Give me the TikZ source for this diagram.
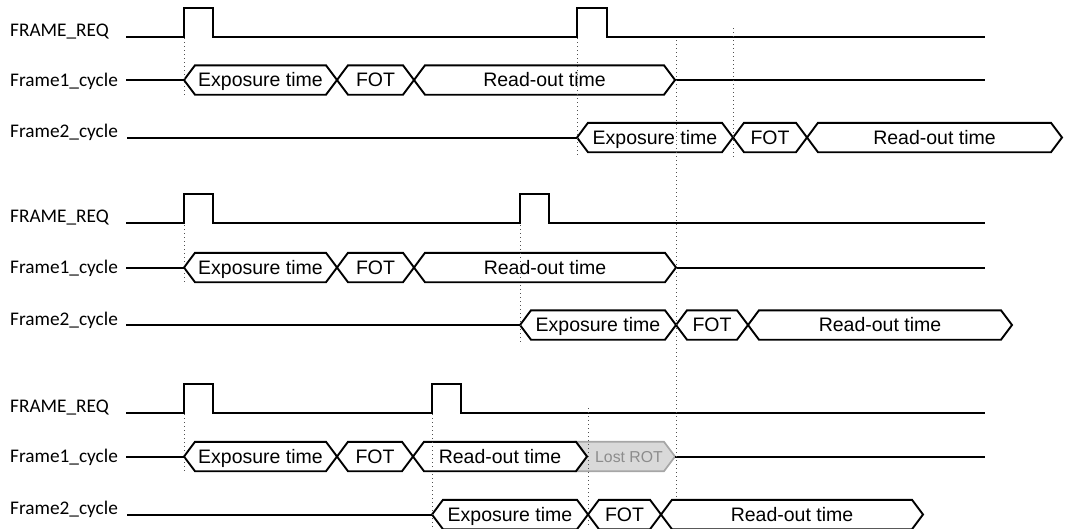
\documentclass[tikz,border=0pt]{standalone}
\usepackage{fontspec}
\setmainfont{Liberation Sans}
\newfontfamily\lblfont{Carlito}
\definecolor{lostfill}{HTML}{D9D9D9}
\definecolor{lostline}{HTML}{A6A6A6}
\definecolor{losttext}{HTML}{8C8C8C}
\definecolor{guidecol}{HTML}{505050}
\newcommand{\hexbox}[5]{%
  \draw[boxline] (#2,#4) -- ++(11,-14.7) -- (#3-11,#4-14.7) -- (#3,#4) -- (#3-11,#4+14.7) -- (#2+11,#4+14.7) -- cycle;
  \node[boxtxt] (#1) at ({(#2+#3)/2},#4+6.7) {#5};
}
\newcommand{\sectionlabels}[4]{% suffix, L, F1, F2
  \node[lbl] (req#1) at (10,#2-0.5) {FRAME\_REQ};
  \node[lbl] (fa#1) at (10,#3+6) {Frame1\_cycle};
  \node[lbl] (fb#1) at (10,#4) {Frame2\_cycle};
}
\begin{document}
\begin{tikzpicture}[x=1pt,y=-1pt,
  sig/.style={line width=2pt, line join=miter},
  boxline/.style={line width=1.9pt, line join=miter},
  guide/.style={line width=0.9pt, dash pattern=on 1pt off 3pt, guidecol},
  lbl/.style={font=\lblfont\fontsize{19.3}{21}\selectfont, inner sep=0pt, anchor=base west},
  boxtxt/.style={font=\fontsize{19.5}{21}\selectfont, inner sep=0pt, anchor=base},
  losttxt/.style={font=\fontsize{15.8}{17}\selectfont, inner sep=0pt, anchor=base, text=losttext},
  lostbox/.style={line width=1.7pt, line join=miter, draw=lostline, fill=lostfill}]
\useasboundingbox (0,0) rectangle (1065,528);

% ---------------- Section 1 ----------------
\sectionlabels{A}{36.7}{80}{137.5}
\draw[sig] (126,36.7) -- (184,36.7) -- (184,7.5) -- (213,7.5) -- (213,36.7) -- (577,36.7) -- (577,7.5) -- (607,7.5) -- (607,36.7) -- (985,36.7);
\draw[sig] (126,80) -- (184,80);
\hexbox{expA1}{184}{337}{80}{Exposure time}
\hexbox{fotA1}{337}{414}{80}{FOT}
\hexbox{rotA1}{414}{675}{80}{Read-out time}
\draw[sig] (675,80) -- (985,80);
\draw[sig] (127,137.5) -- (577,137.5);
\hexbox{expA2}{577}{733}{137.5}{Exposure time}
\hexbox{fotA2}{733}{807}{137.5}{FOT}
\hexbox{rotA2}{807}{1062}{137.5}{Read-out time}

% ---------------- Section 2 ----------------
\sectionlabels{B}{223}{267.5}{325}
\draw[sig] (126,223) -- (184,223) -- (184,194) -- (213,194) -- (213,223) -- (520,223) -- (520,194) -- (548.5,194) -- (548.5,223) -- (985,223);
\draw[sig] (126,267.5) -- (184,267.5);
\hexbox{expB1}{184}{337}{267.5}{Exposure time}
\hexbox{fotB1}{337}{414}{267.5}{FOT}
\hexbox{rotB1}{414}{676}{267.5}{Read-out time}
\draw[sig] (676,267.5) -- (985,267.5);
\draw[sig] (126,325) -- (520,325);
\hexbox{expB2}{520}{676}{325}{Exposure time}
\hexbox{fotB2}{676}{748}{325}{FOT}
\hexbox{rotB2}{748}{1012}{325}{Read-out time}

% ---------------- Section 3 ----------------
\sectionlabels{C}{412.5}{456.5}{514.5}
\draw[sig] (126,412.5) -- (184,412.5) -- (184,384) -- (213,384) -- (213,412.5) -- (432,412.5) -- (432,384) -- (461,384) -- (461,412.5) -- (985,412.5);
\draw[sig] (126,456.5) -- (184,456.5);
\hexbox{expC1}{184}{337}{456.5}{Exposure time}
\hexbox{fotC1}{337}{413}{456.5}{FOT}
\draw[lostbox] (576,441.8) -- (664,441.8) -- (675,456.5) -- (664,471.2) -- (576,471.2) -- (587,456.5) -- cycle;
\node[losttxt] (lostC1) at (629,462) {Lost ROT};
\hexbox{rotC1}{413}{587}{456.5}{Read-out time}
\draw[sig] (675,456.5) -- (985,456.5);
\draw[sig] (127,514.5) -- (432,514.5);
\hexbox{expC2}{432}{588}{514.5}{Exposure time}
\hexbox{fotC2}{588}{661}{514.5}{FOT}
\hexbox{rotC2}{661}{923}{514.5}{Read-out time}

% ---------------- dotted guides ----------------
\draw[guide] (184,38) -- (184,96);
\draw[guide] (577,38) -- (577,157);
\draw[guide] (733,28) -- (733,157);
\draw[guide] (676,40) -- (676,497);
\draw[guide] (184,225) -- (184,283);
\draw[guide] (520,225) -- (520,345);
\draw[guide] (184,414) -- (184,472);
\draw[guide] (432,414) -- (432,528);
\draw[guide] (588,408) -- (588,528);
\end{tikzpicture}
\end{document}
